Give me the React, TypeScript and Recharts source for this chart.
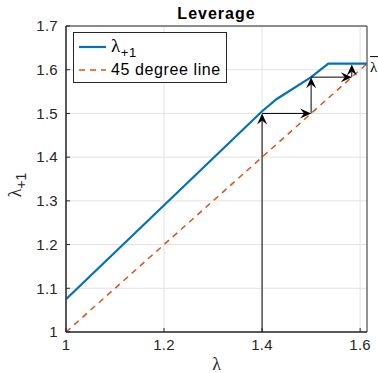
import React from 'react';
import {
  LineChart,
  Line,
  XAxis,
  YAxis,
  CartesianGrid,
  ReferenceLine,
  ReferenceArea,
  ReferenceDot,
  Legend,
} from 'recharts';

// lambda -> lambda_{+1} map (piecewise)
const lambdaGrid = [1, 1.4, 1.43, 1.5, 1.535, 1.614];
const lambdaNext = [1.075, 1.505, 1.533, 1.583, 1.614, 1.614];
const diagonalX = [1, 1.614];
const lambdaBar = 1.614;

// cobweb arrows: start and end points
const arrowX0 = [1.4, 1.4, 1.5, 1.5, 1.583];
const arrowY0 = [1, 1.5, 1.5, 1.583, 1.583];
const arrowX1 = [1.4, 1.5, 1.5, 1.583, 1.583];
const arrowY1 = [1.5, 1.5, 1.583, 1.583, 1.612];

const xTicks = [1, 1.2, 1.4, 1.6];
const yTicks = [1, 1.1, 1.2, 1.3, 1.4, 1.5, 1.6, 1.7];

const BLUE = '#0072BD';
const ORANGE = '#D95319';
const INK = '#262626';
const FONT = '"Liberation Sans", Arial, Helvetica, sans-serif';
const SERIF = '"Liberation Serif", "Times New Roman", serif';

const curve = lambdaGrid.map((x, i) => ({ x, y: lambdaNext[i] }));
const diagonal = diagonalX.map((x) => ({ x, y: x }));
const arrows = arrowX0.map((x, i) => [
  { x, y: arrowY0[i] },
  { x: arrowX1[i], y: arrowY1[i] },
]);

const Arrow = (props: any) => {
  const { x1, y1, x2, y2 } = props;
  const dx = x2 - x1;
  const dy = y2 - y1;
  const len = Math.hypot(dx, dy) || 1;
  const ux = dx / len;
  const uy = dy / len;
  const px = -uy;
  const py = ux;
  const L = 11;
  const W = 5;
  const N = 7;
  const pts = [
    [x2, y2],
    [x2 - ux * L + px * W, y2 - uy * L + py * W],
    [x2 - ux * N, y2 - uy * N],
    [x2 - ux * L - px * W, y2 - uy * L - py * W],
  ]
    .map((p) => p.join(','))
    .join(' ');
  return (
    <g>
      <line x1={x1} y1={y1} x2={x2 - ux * N} y2={y2 - uy * N} stroke="#000" strokeWidth={1} />
      <polygon points={pts} fill="#000" />
    </g>
  );
};

const BarLabel = (props: any) => {
  const vb = props.viewBox || {};
  const x = vb.x + 3;
  const y = vb.y + 8;
  return (
    <g>
      <line x1={x} y1={y - 15} x2={x + 9} y2={y - 15} stroke="#000" strokeWidth={1} />
      <text x={x} y={y} fontFamily={SERIF} fontSize={15} fill="#000">
        λ
      </text>
    </g>
  );
};

const YLabel = (props: any) => {
  const vb = props.viewBox || {};
  const cx = vb.x - 5;
  const cy = vb.y + vb.height / 2 + 6;
  return (
    <text transform={`rotate(-90, ${cx}, ${cy})`} x={cx} y={cy} textAnchor="middle" fill={INK}>
      <tspan fontFamily={SERIF} fontSize={18}>λ</tspan>
      <tspan fontFamily={FONT} fontSize={14} dy={5}>+1</tspan>
    </text>
  );
};

const XLabel = (props: any) => {
  const vb = props.viewBox || {};
  return (
    <text x={vb.x + vb.width / 2} y={vb.y + 38} textAnchor="middle" fontFamily={SERIF} fontSize={18} fill={INK}>
      λ
    </text>
  );
};

const LegendBox = () => (
  <div
    style={{
      boxSizing: 'border-box',
      width: 154,
      height: 51,
      border: `1px solid ${INK}`,
      background: '#fff',
      fontFamily: FONT,
      fontSize: 16,
      letterSpacing: 0.6,
      whiteSpace: 'nowrap',
      color: '#000',
      padding: '2px 0 0 4px',
    }}
  >
    <div style={{ display: 'flex', alignItems: 'center', height: 24 }}>
      <svg width={30} height={10}>
        <line x1={1} y1={5} x2={28} y2={5} stroke={BLUE} strokeWidth={2.2} />
      </svg>
      <span style={{ marginLeft: 3, lineHeight: '18px' }}>
        <span style={{ fontFamily: SERIF, fontSize: 19 }}>λ</span>
        <span style={{ position: 'relative', top: 5, fontSize: 13 }}>+1</span>
      </span>
    </div>
    <div style={{ display: 'flex', alignItems: 'center', height: 22 }}>
      <svg width={30} height={10}>
        <line x1={1} y1={5} x2={28} y2={5} stroke={ORANGE} strokeWidth={1.5} strokeDasharray="6 5" />
      </svg>
      <span style={{ marginLeft: 3, lineHeight: '18px' }}>45 degree line</span>
    </div>
  </div>
);

const tickStyle = { fill: INK, fontSize: 15, fontFamily: FONT, letterSpacing: 0.3 };

export default function App() {
  return (
    <div style={{ position: 'absolute', left: 0, top: 0, background: '#fff' }}>
      <LineChart width={378} height={373} margin={{ top: 26, right: 11, bottom: 11, left: 26 }}>
        <CartesianGrid stroke="#e2e2e2" strokeWidth={1} horizontalValues={yTicks} verticalValues={xTicks} />
        <XAxis
          type="number"
          dataKey="x"
          domain={[1, lambdaBar]}
          ticks={xTicks}
          allowDataOverflow
          height={30}
          stroke={INK}
          tickSize={-4}
          tickMargin={11}
          tick={tickStyle}
          label={{ content: XLabel }}
        />
        <XAxis
          xAxisId="top"
          orientation="top"
          type="number"
          domain={[1, lambdaBar]}
          ticks={xTicks}
          allowDataOverflow
          height={0}
          stroke={INK}
          axisLine={false}
          tickSize={-4}
          tick={false}
        />
        <YAxis
          type="number"
          dataKey="y"
          domain={[1, 1.7]}
          ticks={yTicks}
          allowDataOverflow
          width={40}
          stroke={INK}
          tickSize={-4}
          tickMargin={12}
          tick={tickStyle}
          label={{ content: YLabel }}
        />
        <YAxis
          yAxisId="right"
          orientation="right"
          type="number"
          domain={[1, 1.7]}
          ticks={yTicks}
          allowDataOverflow
          width={0}
          stroke={INK}
          axisLine={false}
          tickSize={-4}
          tick={false}
        />
        <ReferenceArea
          x1={1}
          x2={lambdaBar}
          y1={1}
          y2={1.7}
          fill="none"
          fillOpacity={0}
          stroke={INK}
          strokeWidth={1}
          label={{
            value: 'Leverage',
            position: 'top',
            offset: 7,
            fill: '#000',
            fontSize: 16,
            fontWeight: 'bold',
            fontFamily: FONT,
            letterSpacing: 1,
          }}
        />
        <Line
          data={diagonal}
          dataKey="y"
          stroke={ORANGE}
          strokeWidth={1.5}
          strokeDasharray="6 5"
          dot={false}
          isAnimationActive={false}
          legendType="none"
        />
        <Line
          data={curve}
          dataKey="y"
          stroke={BLUE}
          strokeWidth={2.2}
          dot={false}
          isAnimationActive={false}
          legendType="none"
        />
        {arrows.map((seg, i) => (
          <ReferenceLine key={`arrow-${i}`} segment={seg} shape={Arrow} ifOverflow="visible" />
        ))}
        <ReferenceDot
          x={lambdaBar}
          y={lambdaBar}
          r={0}
          fill="none"
          stroke="none"
          ifOverflow="visible"
          label={{ content: BarLabel }}
        />
        <Legend
          layout="vertical"
          align="center"
          verticalAlign="middle"
          content={LegendBox}
          wrapperStyle={{ left: 73, top: 32, width: 154, height: 51 }}
        />
      </LineChart>
    </div>
  );
}
